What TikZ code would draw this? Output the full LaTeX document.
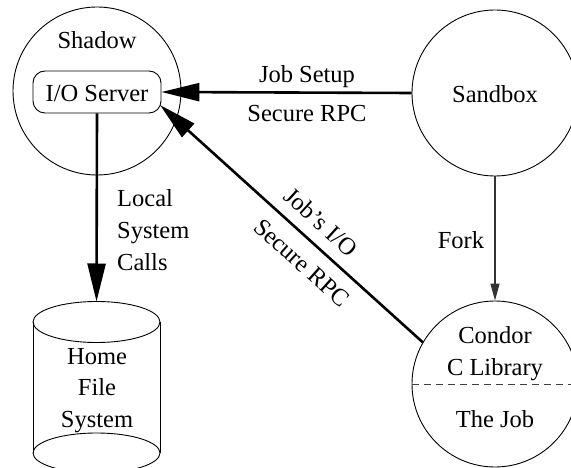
\documentclass[tikz,border=0pt]{standalone}
\usepackage{fontspec}
\setmainfont{Liberation Serif}
\usetikzlibrary{arrows.meta,calc}
\begin{document}
\begin{tikzpicture}[x=1pt,y=-1pt,
  lbl/.style={font=\fontsize{24.5}{30}\selectfont, inner sep=0pt, anchor=base},
  proc/.style={circle, draw, line width=0.9pt, minimum size=#1, inner sep=0pt},
  bigarrow/.style={line width=2.6pt, -{Triangle[length=38pt,width=18pt]}},
  smallarrow/.style={line width=1.2pt, draw=black!80, -{Triangle[length=17pt,width=9pt]}}]
\useasboundingbox (0,0) rectangle (571,468);
\clip (0,0) rectangle (571,468);
% circles
\node[proc=168pt] (shadow) at (97,91) {};
\node[proc=166pt] (sandbox) at (495,93) {};
\node[proc=166pt] (condor) at (495,384) {};
\draw[dashed, dash pattern=on 7pt off 5pt, line width=0.9pt, draw=black!75] (condor.west) -- (condor.east);
% I/O server
\node[draw, line width=0.9pt, rounded corners=12pt, minimum width=128pt, minimum height=42pt, inner sep=0pt] (io) at (97,92) {};
\node[lbl] (iot) at (97,102) {I/O Server};
\node[lbl] (shadowt) at (97,49) {Shadow};
\node[lbl] (sandboxt) at (495,103) {Sandbox};
\node[lbl] (c1) at (495,343) {Condor};
\node[lbl] (c2) at (495,375) {C Library};
\node[lbl] (c3) at (495,427) {The Job};
% cylinder
\draw[line width=0.9pt] (33,322) -- (33,453) (160,322) -- (160,453);
\draw[line width=0.9pt] (96.5,322) ellipse [x radius=63.5, y radius=20.5];
\draw[line width=0.9pt] (96.5,453) ellipse [x radius=63.5, y radius=20];
\coordinate (cyltop) at (96.5,301.5);
\node[lbl] (h1) at (97,364) {Home};
\node[lbl] (h2) at (97,395) {File};
\node[lbl] (h3) at (97,427) {System};
% arrows
\draw[bigarrow] (sandbox.west) -- (io.east);
\coordinate (iotip) at (160,105);
\draw[bigarrow] (condor.150) -- (iotip);
\draw[bigarrow] (io.south) -- (cyltop);
\draw[smallarrow] (sandbox.south) -- (condor.north);
% labels
\node[lbl] (js) at (307,83) {Job Setup};
\node[lbl] (sr) at (307,122) {Secure RPC};
\node[lbl, anchor=base west] (l1) at (117,207) {Local};
\node[lbl, anchor=base west] (l2) at (117,239) {System};
\node[lbl, anchor=base west] (l3) at (117,270) {Calls};
\node[lbl] (fork) at (461,248) {Fork};
\node[font=\fontsize{24.5}{30}\selectfont, inner sep=0pt, rotate=-42] (jio) at (321,222) {Job’s I/O};
\node[font=\fontsize{24.5}{30}\selectfont, inner sep=0pt, rotate=-42] (srpc) at (302,263) {Secure RPC};
\end{tikzpicture}
\end{document}
